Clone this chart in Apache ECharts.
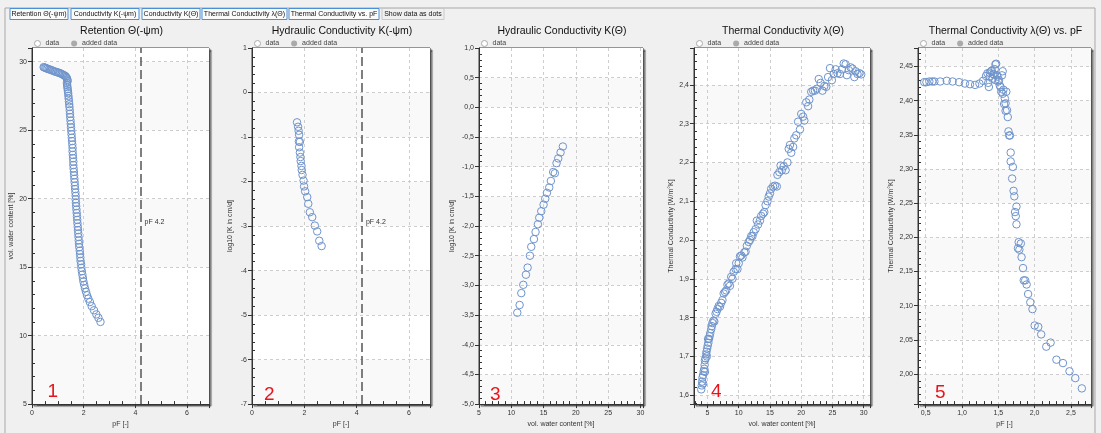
<!DOCTYPE html>
<html><head><meta charset="utf-8">
<script src="https://cdn.jsdelivr.net/npm/echarts@6/dist/echarts.min.js"></script>
<style>html,body{margin:0;padding:0;background:#f0f0f0}#c{width:1101px;height:433px}</style>
</head><body><div id="c"></div>
<script>
// ---------- texts ----------
const tabLabels = ['Retention Θ(-ψm)', 'Conductivity K(-ψm)', 'Conductivity K(Θ)', 'Thermal Conductivity λ(Θ)', 'Thermal Conductivity vs. pF', 'Show data as dots'];
const chartTitles = ['Retention Θ(-ψm)', 'Hydraulic Conductivity K(-ψm)', 'Hydraulic Conductivity K(Θ)', 'Thermal Conductivity λ(Θ)', 'Thermal Conductivity λ(Θ) vs. pF'];
const xNames = ['pF [-]', 'pF [-]', 'vol. water content [%]', 'vol. water content [%]', 'pF [-]'];
const yNames = ['vol. water content [%]', 'log10 [K in cm/d]', 'log10 [K in cm/d]', 'Thermal Conductivity [W/m°K]', 'Thermal Conductivity [W/m°K]'];
const panelNumbers = ['1', '2', '3', '4', '5'];
const pfLineValue = 4.2;
const pfLineLabel = 'pF 4.2';
const pfLabelY = [18.3, -2.9];

// ---------- 1: retention ----------
const retPF = [0.45,0.48,0.52,0.56,0.60,0.65,0.70,0.76,0.82,0.88,0.94,1.00,1.05,1.10,1.15,1.20,1.25,1.29,1.32,1.35,1.37,1.38,1.35,1.36,1.37,1.38,1.39,1.40,1.41,1.42,1.43,1.44,1.45,1.46,1.47,1.48,1.49,1.50,1.51,1.52,1.53,1.54,1.55,1.56,1.57,1.57,1.58,1.59,1.60,1.60,1.61,1.62,1.63,1.64,1.65,1.66,1.67,1.68,1.69,1.69,1.70,1.71,1.72,1.73,1.74,1.75,1.76,1.77,1.78,1.79,1.80,1.81,1.82,1.83,1.85,1.86,1.87,1.88,1.90,1.91,1.93,1.95,1.97,1.99,2.02,2.05,2.09,2.13,2.18,2.24,2.31,2.40,2.49,2.57,2.65];
const retTheta = [29.60,29.58,29.55,29.52,29.48,29.45,29.42,29.38,29.33,29.28,29.25,29.22,29.18,29.15,29.10,29.05,29.00,28.95,28.88,28.80,28.70,28.58,28.45,28.30,28.15,28.00,27.85,27.70,27.50,27.30,27.10,26.90,26.70,26.45,26.20,25.95,25.70,25.45,25.20,24.95,24.70,24.45,24.20,23.95,23.70,23.45,23.20,22.95,22.70,22.45,22.20,21.95,21.70,21.45,21.20,20.95,20.70,20.45,20.20,19.95,19.70,19.45,19.20,18.95,18.70,18.45,18.20,17.95,17.70,17.45,17.20,16.95,16.70,16.45,16.20,15.95,15.70,15.45,15.20,14.95,14.70,14.45,14.20,13.95,13.70,13.45,13.20,12.95,12.70,12.45,12.15,11.85,11.55,11.30,11.00];

// ---------- 2: K vs pF ----------
const kPF = [1.72,1.76,1.78,1.80,1.79,1.83,1.80,1.83,1.85,1.86,1.89,1.90,1.93,1.97,1.99,2.03,2.11,2.15,2.21,2.30,2.40,2.49,2.57,2.66];
const kLogPF = [-0.67,-0.77,-0.86,-0.95,-1.10,-1.11,-1.23,-1.35,-1.45,-1.54,-1.65,-1.74,-1.85,-1.98,-2.11,-2.22,-2.35,-2.50,-2.69,-2.80,-2.99,-3.12,-3.33,-3.45];

// ---------- 3: K vs water content ----------
const kTheta = [17.99,17.63,17.27,17.01,16.49,16.75,16.13,15.88,15.52,15.26,15.00,14.64,14.33,14.12,13.76,13.51,13.09,12.89,12.53,12.27,11.86,11.55,11.29,10.93];
const kLogTheta = [-0.66,-0.76,-0.86,-0.94,-1.09,-1.11,-1.24,-1.35,-1.44,-1.54,-1.64,-1.75,-1.86,-1.97,-2.10,-2.22,-2.35,-2.50,-2.70,-2.82,-2.99,-3.13,-3.33,-3.46];

// ---------- 4: thermal conductivity vs water content ----------
const lamTheta = [4.00,4.10,4.15,4.20,4.30,4.30,4.40,4.50,4.55,4.60,4.60,4.70,4.80,4.85,4.90,4.95,5.05,5.10,5.15,5.25,5.35,5.45,5.60,5.70,5.80,5.95,6.10,6.30,6.45,6.60,6.80,7.00,7.20,7.40,7.60,7.80,8.00,8.20,8.40,8.60,8.80,9.00,9.20,9.50,9.60,9.80,10.00,10.20,10.40,10.60,10.90,11.10,11.30,11.60,11.80,12.00,12.20,12.40,12.70,12.90,13.10,13.40,13.60,13.90,14.10,14.30,14.60,14.80,15.00,15.20,15.50,15.80,16.10,16.20,16.50,16.70,16.90,17.20,17.50,17.80,18.00,18.20,18.40,18.70,18.90,19.20,19.50,19.80,20.00,20.30,20.50,20.80,21.10,21.30,21.60,21.90,22.20,22.50,22.80,23.10,23.40,23.70,24.00,24.30,24.60,24.90,25.20,25.50,25.80,26.20,26.50,26.80,27.10,27.30,27.60,27.90,28.20,28.50,28.70,29.00,29.30,29.60];
const lamValues = [1.615,1.625,1.635,1.645,1.630,1.652,1.662,1.668,1.678,1.660,1.690,1.695,1.705,1.712,1.700,1.720,1.728,1.745,1.735,1.745,1.752,1.760,1.770,1.778,1.786,1.792,1.790,1.810,1.815,1.822,1.830,1.828,1.838,1.845,1.862,1.866,1.870,1.885,1.888,1.882,1.905,1.900,1.918,1.925,1.940,1.925,1.940,1.958,1.960,1.955,1.968,1.970,1.985,1.995,2.000,2.010,2.010,2.020,2.028,2.050,2.040,2.050,2.062,2.068,2.072,2.090,2.100,2.112,2.120,2.132,2.138,2.140,2.138,2.168,2.175,2.192,2.180,2.190,2.180,2.200,2.235,2.245,2.225,2.240,2.262,2.270,2.305,2.285,2.325,2.318,2.308,2.355,2.345,2.362,2.382,2.385,2.385,2.390,2.415,2.405,2.385,2.397,2.395,2.420,2.443,2.412,2.428,2.440,2.430,2.428,2.440,2.455,2.453,2.425,2.438,2.445,2.442,2.420,2.435,2.428,2.430,2.427];

// ---------- 5: thermal conductivity vs pF ----------
const lamPF = [0.48,0.51,0.55,0.59,0.62,0.70,0.79,0.87,0.96,1.04,1.11,1.18,1.24,1.29,1.33,1.36,1.37,1.38,1.41,1.43,1.45,1.47,1.48,1.50,1.52,1.55,1.56,1.57,1.59,1.60,1.61,1.35,1.38,1.40,1.42,1.44,1.46,1.46,1.49,1.51,1.53,1.54,1.56,1.58,1.60,1.62,1.63,1.64,1.65,1.66,1.67,1.67,1.70,1.69,1.71,1.72,1.73,1.74,1.75,1.75,1.77,1.79,1.78,1.81,1.82,1.84,1.85,1.87,1.89,1.91,1.94,1.97,2.00,2.05,2.09,2.16,2.22,2.30,2.39,2.48,2.56,2.65];
const lamPFValues = [2.427,2.427,2.428,2.428,2.428,2.428,2.429,2.428,2.427,2.425,2.424,2.423,2.425,2.429,2.436,2.426,2.420,2.441,2.444,2.439,2.446,2.454,2.437,2.428,2.422,2.437,2.443,2.416,2.403,2.396,2.413,2.440,2.435,2.443,2.432,2.438,2.430,2.453,2.435,2.430,2.420,2.413,2.410,2.395,2.385,2.386,2.376,2.355,2.349,2.349,2.324,2.311,2.303,2.286,2.268,2.260,2.237,2.231,2.245,2.219,2.184,2.182,2.193,2.191,2.171,2.155,2.137,2.137,2.131,2.117,2.105,2.095,2.071,2.069,2.058,2.040,2.046,2.021,2.016,2.004,1.994,1.979];

// ---------- layout ----------
const grids = [
  {left: 32, top: 48, width: 177, height: 362},
  {left: 252, top: 48, width: 178, height: 362},
  {left: 479, top: 48, width: 164, height: 362},
  {left: 694, top: 48, width: 176, height: 362},
  {left: 918, top: 48, width: 173, height: 362}
];
const hasAdded = [true, true, false, true, true];
const FONT = 'Liberation Sans, Arial, sans-serif';
const MARK = '#6f94cc';

function comma(d) { return v => v.toFixed(d).replace('.', ','); }

function axisBase(extra) {
  return Object.assign({
    type: 'value',
    axisLine: {show: true, onZero: false, lineStyle: {color: '#333', width: 1}},
    axisTick: {show: true, length: 4, lineStyle: {color: '#333'}},
    minorTick: {show: true, splitNumber: 5, length: -3, lineStyle: {color: '#333'}},
    splitLine: {show: true, showMinLine: false, showMaxLine: false, lineStyle: {color: '#cdcdcd', type: [3, 3]}},
    minorSplitLine: {show: false},
    nameLocation: 'middle',
    nameTextStyle: {fontSize: 7, color: '#333', fontFamily: FONT},
    axisLabel: {fontSize: 7, color: '#333', margin: 5, fontFamily: FONT}
  }, extra);
}

const xAxes = [
  axisBase({gridIndex: 0, min: 0, max: 6.85, interval: 2, name: xNames[0], nameGap: 14,
    minorTick: {show: true, splitNumber: 4, length: -3, lineStyle: {color: '#333'}},
    axisLabel: {fontSize: 7, color: '#333', margin: 5, fontFamily: FONT, showMaxLabel: false}}),
  axisBase({gridIndex: 1, min: 0, max: 6.8, interval: 2, name: xNames[1], nameGap: 14,
    minorTick: {show: true, splitNumber: 4, length: -3, lineStyle: {color: '#333'}},
    axisLabel: {fontSize: 7, color: '#333', margin: 5, fontFamily: FONT, showMaxLabel: false}}),
  axisBase({gridIndex: 2, min: 5, max: 30.4, interval: 5, name: xNames[2], nameGap: 14,
    axisLabel: {fontSize: 7, color: '#333', margin: 5, fontFamily: FONT, showMaxLabel: false}}),
  axisBase({gridIndex: 3, min: 2.85, max: 31, splitNumber: 5, name: xNames[3], nameGap: 14,
    axisLabel: {fontSize: 7, color: '#333', margin: 5, fontFamily: FONT, showMinLabel: false, showMaxLabel: false}}),
  axisBase({gridIndex: 4, min: 0.394, max: 2.776, splitNumber: 5, name: xNames[4], nameGap: 14,
    axisLabel: {fontSize: 7, color: '#333', margin: 5, fontFamily: FONT, showMinLabel: false, showMaxLabel: false, formatter: comma(1)}})
];
const band = {show: true, areaStyle: {color: ['#f9f9f9', '#ffffff']}};
const yAxes = [
  axisBase({gridIndex: 0, min: 5, max: 31, interval: 5, name: yNames[0], nameGap: 17, splitArea: band,
    axisLabel: {fontSize: 7, color: '#333', margin: 5, fontFamily: FONT, showMaxLabel: false}}),
  axisBase({gridIndex: 1, min: -7, max: 1, interval: 1, name: yNames[1], nameGap: 18, splitArea: band}),
  axisBase({gridIndex: 2, min: -5, max: 1, interval: 0.5, name: yNames[2], nameGap: 23, splitArea: band,
    axisLabel: {fontSize: 7, color: '#333', margin: 5, fontFamily: FONT, formatter: comma(1)}}),
  axisBase({gridIndex: 3, min: 1.577, max: 2.495, splitNumber: 9, name: yNames[3], nameGap: 19, splitArea: band,
    axisLabel: {fontSize: 7, color: '#333', margin: 5, fontFamily: FONT, showMinLabel: false, showMaxLabel: false, formatter: comma(1)}}),
  axisBase({gridIndex: 4, min: 1.956, max: 2.477, splitNumber: 10, name: yNames[4], nameGap: 23, splitArea: band,
    axisLabel: {fontSize: 7, color: '#333', margin: 5, fontFamily: FONT, showMinLabel: false, showMaxLabel: false, formatter: comma(2)}})
];

const seriesX = [retPF, kPF, kTheta, lamTheta, lamPF];
const seriesY = [retTheta, kLogPF, kLogTheta, lamValues, lamPFValues];

const series = [];
seriesX.forEach((xs, i) => {
  const s = {
    name: 'data', type: 'scatter', xAxisIndex: i, yAxisIndex: i,
    symbol: 'circle', symbolSize: 7.5,
    itemStyle: {color: 'rgba(255,255,255,0)', borderColor: MARK, borderWidth: 1, opacity: 1},
    data: xs.map((x, k) => [x, seriesY[i][k]]),
    silent: true
  };
  if (i < 2) {
    s.markLine = {symbol: 'none', silent: true, animation: false,
      lineStyle: {type: [9, 4], color: '#555', width: 1.5}, label: {show: false},
      data: [{xAxis: pfLineValue}]};
    s.markPoint = {symbol: 'circle', symbolSize: 0, silent: true, animation: false,
      label: {show: true, position: 'right', distance: 4, formatter: pfLineLabel, fontSize: 7, color: '#333', fontFamily: FONT},
      data: [{coord: [pfLineValue, pfLabelY[i]]}]};
  }
  series.push(s);
  if (hasAdded[i]) {
    series.push({name: 'added data', type: 'scatter', xAxisIndex: i, yAxisIndex: i,
      symbolSize: 6, itemStyle: {color: '#999'}, data: []});
  }
});

const legends = grids.map((g, i) => ({
  left: g.left - 3, top: 35, itemWidth: 6, itemHeight: 6, itemGap: 12,
  textStyle: {fontSize: 7, color: '#444', fontFamily: FONT},
  selectedMode: false,
  data: hasAdded[i]
    ? [{name: 'data', icon: 'circle', itemStyle: {color: '#fff', borderColor: '#aaa', borderWidth: 1}},
       {name: 'added data', icon: 'circle', itemStyle: {color: '#999', borderWidth: 0}}]
    : [{name: 'data', icon: 'circle', itemStyle: {color: '#fff', borderColor: '#aaa', borderWidth: 1}}]
}));

const titles = grids.map((g, i) => ({
  text: chartTitles[i], left: g.left + g.width / 2 - 4, top: 21, textAlign: 'center',
  textStyle: {fontSize: 10.5, fontWeight: 'normal', color: '#111', fontFamily: FONT}
}));

// tabs
const tabX = [10, 71, 142, 202, 289, 382];
const tabW = [58, 68, 58, 85, 90, 62];
const graphics = [
  {type: 'rect', shape: {x: 5, y: 8, width: 1090, height: 440}, style: {fill: '#f0f0f0', stroke: '#a9a9a9', lineWidth: 1}, z: -10, silent: true}
];
tabLabels.forEach((t, i) => {
  const last = i === tabLabels.length - 1;
  graphics.push({type: 'rect', shape: {x: tabX[i], y: 8.5, width: tabW[i], height: 11},
    style: {fill: last ? '#f0f0f0' : '#fbfbfb', stroke: last ? '#c8c8c8' : '#4b8fd6', lineWidth: 1}, silent: true});
  graphics.push({type: 'text', x: tabX[i] + tabW[i] / 2, y: 14.2,
    style: {text: t, fontSize: 7, fill: '#111', fontFamily: FONT, align: 'center', verticalAlign: 'middle'}, silent: true});
});
const numPos = [[47.5, 392], [264, 395], [490, 395], [711, 392], [935, 393]];
panelNumbers.forEach((n, i) => {
  graphics.push({type: 'text', x: numPos[i][0], y: numPos[i][1],
    style: {text: n, fontSize: 19, fill: '#e8141b', fontFamily: FONT, align: 'left', verticalAlign: 'middle'}, z: 100, silent: true});
});

const chart = echarts.init(document.getElementById('c'), null, {renderer: 'canvas'});
chart.setOption({
  animation: false,
  backgroundColor: '#f0f0f0',
  title: titles,
  legend: legends,
  grid: grids.map(g => Object.assign({show: true, backgroundColor: '#ffffff', borderColor: '#3a3a3a', borderWidth: 1,
    shadowColor: 'rgba(0,0,0,0.55)', shadowBlur: 1, shadowOffsetX: 2, shadowOffsetY: 2, containLabel: false}, g)),
  xAxis: xAxes,
  yAxis: yAxes,
  series: series,
  graphic: graphics
});
</script>
</body></html>
